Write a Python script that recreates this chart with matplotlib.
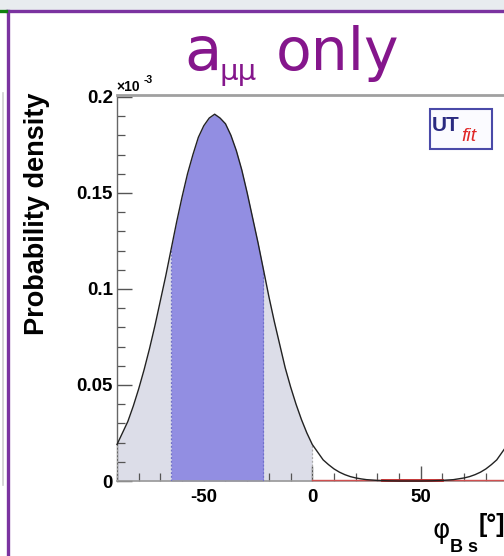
import matplotlib
matplotlib.use("Agg")
import matplotlib.pyplot as plt
from matplotlib.lines import Line2D
from matplotlib.patches import Rectangle
from matplotlib.ticker import MultipleLocator, FixedLocator

# phi_Bs grid [deg] and probability density [x 1e-3]
phi = [-90, -87.5, -85, -82.5, -80, -77.5, -75, -72.5, -70, -67.5,
       -65, -62.5, -60, -57.5, -55, -52.5, -50, -47.5, -45, -42.5,
       -40, -37.5, -35, -32.5, -30, -27.5, -25, -22.5, -20, -17.5,
       -15, -12.5, -10, -7.5, -5, -2.5, 0, 2.5, 5, 7.5,
       10, 12.5, 15, 17.5, 20, 22.5, 25, 30, 35, 40,
       45, 50, 55, 60, 65, 70, 72.5, 75, 77.5, 80,
       82.5, 85, 87.5, 90]
density = [0.019, 0.025, 0.031, 0.039, 0.048, 0.058, 0.069, 0.081, 0.094, 0.107,
           0.121, 0.135, 0.148, 0.160, 0.170, 0.179, 0.185, 0.189, 0.191, 0.189,
           0.186, 0.180, 0.172, 0.162, 0.150, 0.137, 0.124, 0.110, 0.096, 0.083,
           0.071, 0.059, 0.049, 0.040, 0.032, 0.025, 0.019, 0.015, 0.011, 0.0085,
           0.0063, 0.0046, 0.0033, 0.0023, 0.0016, 0.0011, 0.0007, 0.0003, 0.0001, 0.0,
           0.0, 0.0, 0.0001, 0.0003, 0.0007, 0.0016, 0.0023, 0.0033, 0.0046, 0.0063,
           0.0085, 0.011, 0.015, 0.019]

# probability intervals [deg]
range_95 = (-90, 0)
range_68 = (-65, -22.5)

x_ticks = [-50, 0, 50]
x_tick_labels = ["-50", "0", "50"]
y_ticks = [0, 0.05, 0.1, 0.15, 0.2]
y_tick_labels = ["0", "0.05", "0.1", "0.15", "0.2"]

W, H = 504, 556
fig = plt.figure(figsize=(W / 100, H / 100), dpi=100)
fig.patch.set_facecolor("white")


def fx(px):
    return px / W


def fy(py):
    return 1 - py / H


# slide decorations
fig.add_artist(Rectangle((0, fy(10)), 1, 10 / H, transform=fig.transFigure,
                         facecolor="#e8ecef", edgecolor="none", zorder=0))
fig.add_artist(Line2D([fx(7), 1], [fy(11), fy(11)], transform=fig.transFigure,
                      color="#7b33a0", lw=2.4))
fig.add_artist(Line2D([fx(8), fx(8)], [fy(11), 0], transform=fig.transFigure,
                      color="#7b33a0", lw=2.4))
fig.add_artist(Line2D([0, fx(6)], [fy(11), fy(11)], transform=fig.transFigure,
                      color="#108010", lw=2.4))
fig.add_artist(Line2D([fx(3), fx(3)], [fy(93), fy(485)], transform=fig.transFigure,
                      color="#cfcfcf", lw=1.2))

ax = fig.add_axes([fx(117), fy(481), 390.6 / W, 386 / H])
ax.set_xlim(-90, 90)
ax.set_ylim(0, 0.201)

sel95 = [i for i, p in enumerate(phi) if range_95[0] <= p <= range_95[1]]
sel68 = [i for i, p in enumerate(phi) if range_68[0] <= p <= range_68[1]]
ax.fill_between([phi[i] for i in sel95], [density[i] for i in sel95], 0,
                color="#dcdde8", lw=0, zorder=1)
ax.fill_between([phi[i] for i in sel68], [density[i] for i in sel68], 0,
                color="#928ee2", lw=0, zorder=2)

# interval edges
for edge, col in [(range_95[0], "#aaaaaa"), (range_95[1], "#aaaaaa"),
                  (range_68[0], "#7070c8"), (range_68[1], "#7070c8")]:
    i = phi.index(edge)
    ax.plot([edge, edge], [0, density[i]], ls=(0, (1.5, 1.5)), color=col,
            lw=0.9, zorder=3)

# red distribution lying on the axis
ax.plot([0, 90], [0.0004, 0.0004], color="#d05050", lw=1.0, zorder=3,
        clip_on=False)
ax.plot([32, 60], [0.0005, 0.0005], color="#c02828", lw=2.0, zorder=3,
        clip_on=False)

ax.plot(phi, density, color="#222222", lw=1.0, zorder=4, clip_on=False)

ax.spines["right"].set_visible(False)
ax.spines["top"].set_color("#a0a0a0")
ax.spines["top"].set_linewidth(2.0)
ax.spines["left"].set_color("#666666")
ax.spines["left"].set_linewidth(1.0)
ax.spines["bottom"].set_color("#999999")
ax.spines["bottom"].set_linewidth(1.2)

ax.xaxis.set_major_locator(FixedLocator(x_ticks))
ax.set_xticklabels(x_tick_labels)
ax.xaxis.set_minor_locator(MultipleLocator(10))
ax.yaxis.set_major_locator(FixedLocator(y_ticks))
ax.set_yticklabels(y_tick_labels)
ax.yaxis.set_minor_locator(MultipleLocator(0.01))
ax.tick_params(which="both", direction="in", color="#555555", top=False,
               right=False)
ax.tick_params(which="major", length=11, width=1.0)
ax.tick_params(which="minor", length=6, width=0.9)
ax.tick_params(axis="y", pad=3)
ax.tick_params(axis="x", pad=6)
for lab in ax.get_xticklabels() + ax.get_yticklabels():
    lab.set_fontfamily("Liberation Sans")
    lab.set_fontweight("bold")
    lab.set_fontsize(13.5)

# exponent of the y axis
fig.text(fx(116), fy(91), "\u00d710", fontsize=10, fontweight="bold",
         family="Liberation Sans", va="baseline", ha="left")
fig.text(fx(144), fy(83), "-3", fontsize=7.5, fontweight="bold",
         family="Liberation Sans", va="baseline", ha="left")

# axis titles
fig.text(fx(37), fy(214), "Probability density", rotation=90, fontsize=19.5,
         fontweight="bold", family="Liberation Sans", ha="center", va="center")
fig.text(fx(432), fy(538), "\u03c6", fontsize=19, family="DejaVu Sans",
         ha="left", va="baseline")
fig.text(fx(450), fy(552), "B s", fontsize=13, fontweight="bold",
         family="Liberation Sans", ha="left", va="baseline")
fig.text(fx(479), fy(532), "[\u00b0]", fontsize=18, fontweight="bold",
         family="Liberation Sans", ha="left", va="baseline")

# headline
purple = "#85168c"
fig.text(fx(184), fy(70), "a", fontsize=44, color=purple, family="DejaVu Sans",
         ha="left", va="baseline")
fig.text(fx(220), fy(80), "\u03bc\u03bc", fontsize=21, color=purple,
         family="DejaVu Sans", ha="left", va="baseline")
fig.text(fx(276), fy(70), "only", fontsize=42, color=purple,
         family="DejaVu Sans", ha="left", va="baseline")

# UTfit badge
fig.add_artist(Rectangle((fx(430), fy(149)), 62 / W, 40 / H,
                         transform=fig.transFigure, facecolor="#fbfbff",
                         edgecolor="#4a4aa8", lw=1.5, zorder=5))
fig.text(fx(432), fy(131), "UT", fontsize=15, fontweight="bold",
         color="#2b2b80", family="Liberation Sans", ha="left", va="baseline",
         zorder=6)
fig.text(fx(461), fy(141), "fit", fontsize=14, fontstyle="italic",
         color="#e02828", family="Liberation Sans", ha="left", va="baseline",
         zorder=6)

fig.savefig("out.png", dpi=100)
